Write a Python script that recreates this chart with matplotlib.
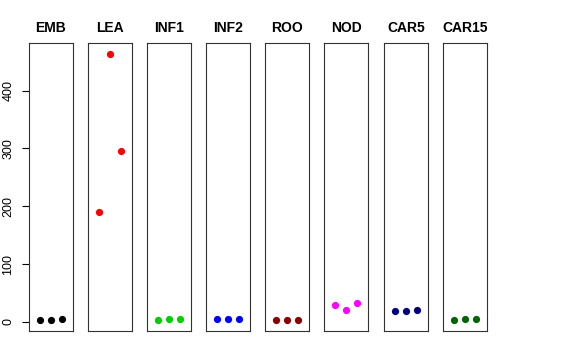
import matplotlib
matplotlib.use("Agg")
import matplotlib.pyplot as plt

plt.rcParams['font.family'] = ['Liberation Sans', 'DejaVu Sans']

tissues = ["EMB", "LEA", "INF1", "INF2", "ROO", "NOD", "CAR5", "CAR15"]
colors = ["#000000", "#FF0000", "#00CD00", "#0000FF", "#8B0000", "#FF00FF", "#000080", "#006400"]
values = {
    "EMB":   [2.6, 3.8, 4.8],
    "LEA":   [190, 464, 296],
    "INF1":  [3.6, 4.7, 4.7],
    "INF2":  [5.0, 4.8, 5.0],
    "ROO":   [3.8, 2.6, 3.8],
    "NOD":   [29, 21, 32],
    "CAR5":  [18.3, 19.6, 19.8],
    "CAR15": [3.2, 4.9, 4.4],
}
yticks = [0, 100, 200, 300, 400]

W, H = 576, 360
fig = plt.figure(figsize=(W / 100, H / 100), dpi=100)

allv = [v for t in tissues for v in values[t]]
lo, hi = min(allv), max(allv)
rng = hi - lo
ylim = (lo - 0.04 * rng, hi + 0.04 * rng)

panel_left = [29, 88, 147, 206, 265, 324, 384, 443]
pw = 44
top, bottom = 43, 331
for i, t in enumerate(tissues):
    ax = fig.add_axes([panel_left[i] / W, (H - bottom) / H, pw / W, (bottom - top) / H])
    ax.plot([1, 2, 3], values[t], 'o', color=colors[i], markersize=5.2, markeredgewidth=0)
    ax.set_xlim(0, 4)
    ax.set_ylim(*ylim)
    ax.set_xticks([])
    for s in ax.spines.values():
        s.set_linewidth(0.8)
        s.set_color('#333333')
    ax.set_title(t, fontsize=10, fontweight='bold', pad=8)
    if i == 0:
        ax.set_yticks(yticks)
        ax.set_yticklabels([str(v) for v in yticks], rotation=90, va='center', fontsize=9)
        ax.tick_params(axis='y', length=5, width=0.8, pad=5.5)
    else:
        ax.set_yticks([])

fig.savefig("out.png", dpi=100)
